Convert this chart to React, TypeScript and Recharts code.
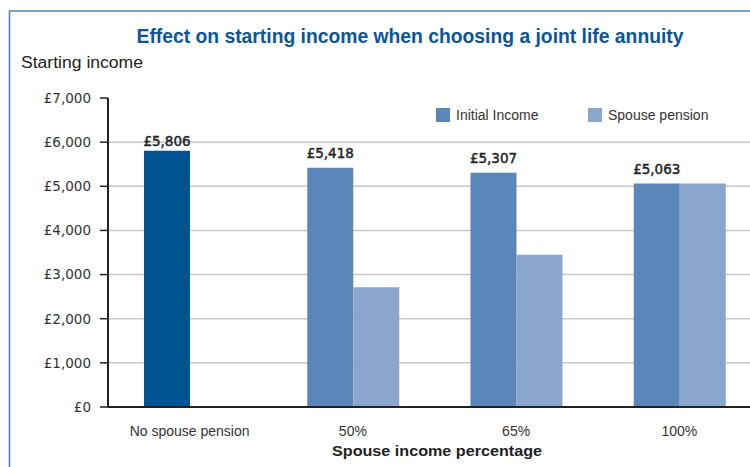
import { BarChart, Bar, XAxis, YAxis, CartesianGrid, Cell, LabelList } from "recharts";

const categories = ["No spouse pension", "50%", "65%", "100%"];
const initialIncome = [5806, 5418, 5307, 5063];
const spousePension = [0, 2710, 3450, 5063];
const yTicks = [0, 1000, 2000, 3000, 4000, 5000, 6000, 7000];
const gridValues = [1000, 2000, 3000, 4000, 5000, 6000];
const edgeTicks = [0, 1, 2, 3, 4];
const seriesNames = ["Initial Income", "Spouse pension"];

const COLORS = {
  noSpouse: "#00548f",
  initial: "#5b86b9",
  spouse: "#8ba6cd",
  title: "#0b5599",
  frame: "#4f84ba",
  text: "#222222",
  tick: "#333333",
  grid: "#c8c8c8",
};

const data = categories.map((name, i) => ({
  name,
  initial: initialIncome[i],
  spouse: spousePension[i],
}));

const money = (v: number) => `£${v.toLocaleString("en-GB")}`;

// label above the initial income bars; first one sits a bit lower like the original
const ValueLabel = (props: any) => {
  const { x, y, width, value, index } = props;
  const gap = index === 0 ? 5 : 10;
  return (
    <text
      x={x + width / 2}
      y={y - gap}
      textAnchor="middle"
      fontFamily="'DejaVu Sans', sans-serif"
      fontSize={13.5}
      fill={COLORS.text}
      stroke={COLORS.text}
      strokeWidth={0.45}
    >
      {money(value)}
    </text>
  );
};

export default function App() {
  const legendColors = [COLORS.initial, COLORS.spouse];
  const legendX = [436, 588];

  return (
    <div
      style={{
        position: "fixed",
        left: 0,
        top: 0,
        width: 750,
        height: 467,
        overflow: "hidden",
        background: "#fff",
      }}
    >
      <BarChart
        width={770}
        height={467}
        data={data}
        margin={{ top: 98, right: 9, left: 0, bottom: 30 }}
        barGap={0}
      >
        <CartesianGrid
          vertical={false}
          horizontalValues={gridValues}
          stroke={COLORS.grid}
          strokeWidth={1.5}
        />
        <XAxis
          xAxisId="edges"
          type="number"
          domain={[0, 4]}
          ticks={edgeTicks}
          allowDataOverflow
          tick={false}
          tickSize={4}
          tickLine={{ stroke: COLORS.text, strokeWidth: 1.5 }}
          axisLine={false}
          height={0}
        />
        <XAxis
          dataKey="name"
          height={30}
          tickLine={false}
          tickSize={0}
          tickMargin={19}
          axisLine={{ stroke: COLORS.text, strokeWidth: 2 }}
          tick={{ fontFamily: "'Liberation Sans', Arial, sans-serif", fontSize: 14, fill: COLORS.tick }}
        />
        <YAxis
          width={108}
          domain={[0, 7000]}
          ticks={yTicks}
          interval={0}
          tickFormatter={money}
          tickSize={8}
          tickMargin={9}
          axisLine={{ stroke: COLORS.text, strokeWidth: 2 }}
          tickLine={{ stroke: COLORS.text, strokeWidth: 1.5 }}
          tick={{ fontFamily: "'DejaVu Sans', sans-serif", fontSize: 13.5, fill: COLORS.tick }}
        />
        <Bar dataKey="initial" barSize={46} fill={COLORS.initial} isAnimationActive={false}>
          {data.map((d, i) => (
            <Cell key={d.name} fill={i === 0 ? COLORS.noSpouse : COLORS.initial} />
          ))}
          <LabelList dataKey="initial" content={ValueLabel} />
        </Bar>
        <Bar dataKey="spouse" barSize={46} fill={COLORS.spouse} isAnimationActive={false} />
      </BarChart>

      <svg
        width={750}
        height={467}
        style={{ position: "absolute", left: 0, top: 0, pointerEvents: "none" }}
      >
        <path d="M9.5 467 V11 H750" fill="none" stroke={COLORS.frame} strokeWidth={1.6} />
        <text
          x={410}
          y={43}
          textAnchor="middle"
          fontFamily="'Liberation Sans Narrow', 'Liberation Sans', Arial, sans-serif"
          fontWeight="bold"
          fontSize={20}
          fill={COLORS.title}
          textLength={547}
          lengthAdjust="spacingAndGlyphs"
        >
          Effect on starting income when choosing a joint life annuity
        </text>
        <text
          x={21}
          y={68}
          fontFamily="'Liberation Sans', Arial, sans-serif"
          fontSize={16}
          fill={COLORS.text}
          textLength={122}
          lengthAdjust="spacingAndGlyphs"
        >
          Starting income
        </text>
        <text
          x={437}
          y={456}
          textAnchor="middle"
          fontFamily="'Liberation Sans', Arial, sans-serif"
          fontWeight="bold"
          fontSize={15.5}
          fill={COLORS.text}
          textLength={210}
          lengthAdjust="spacingAndGlyphs"
        >
          Spouse income percentage
        </text>
        {seriesNames.map((name, i) => (
          <g key={name}>
            <rect x={legendX[i]} y={108} width={14} height={14} fill={legendColors[i]} />
            <text
              x={legendX[i] + 20}
              y={120}
              fontFamily="'Liberation Sans', Arial, sans-serif"
              fontSize={14}
              fill={COLORS.tick}
            >
              {name}
            </text>
          </g>
        ))}
      </svg>
    </div>
  );
}
